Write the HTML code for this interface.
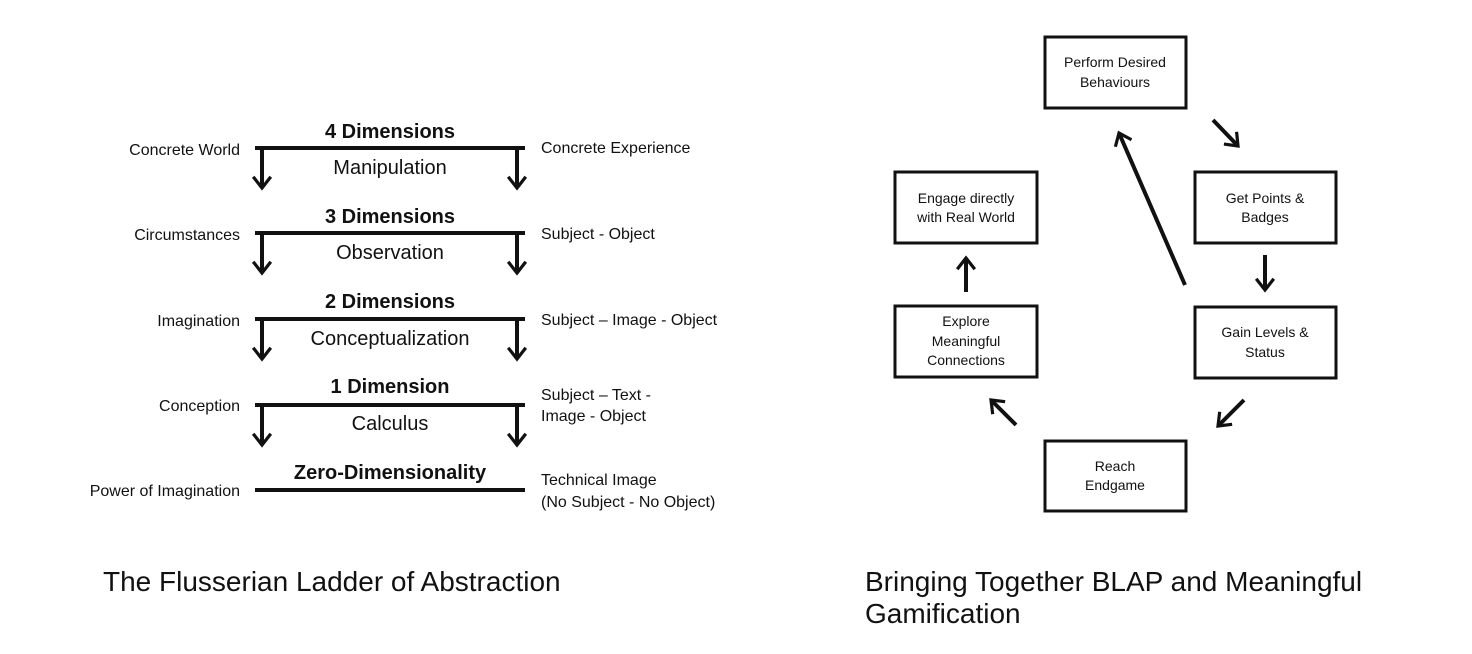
<!DOCTYPE html>
<html><head><style>
body{margin:0;background:#fff;width:1472px;height:654px;overflow:hidden;font-family:"Liberation Sans",sans-serif;}
.c{position:absolute;font-size:28px;color:#111;line-height:32px}
</style></head><body>
<svg width="1472" height="654" style="position:absolute;left:0;top:0" font-family="Liberation Sans, sans-serif" fill="#111">
<defs><marker id="a" markerWidth="5" markerHeight="5" refX="3.2" refY="2.5" orient="auto" markerUnits="strokeWidth"><path d="M0.4,0.3 L3.2,2.5 L0.4,4.7" fill="none" stroke="#111" stroke-width="0.8"/></marker></defs>
<g stroke="#111" stroke-width="4" fill="none">
<g id="lv"><line x1="255" y1="148" x2="525" y2="148"/><line x1="262" y1="148" x2="262" y2="188" marker-end="url(#a)"/><line x1="517" y1="148" x2="517" y2="188" marker-end="url(#a)"/></g>
<use href="#lv" y="85"/><use href="#lv" y="171"/><use href="#lv" y="257"/>
<line x1="255" y1="490" x2="525" y2="490"/>
</g>
<g font-size="20" font-weight="bold" text-anchor="middle">
<text x="390" y="138">4 Dimensions</text><text x="390" y="223">3 Dimensions</text><text x="390" y="308">2 Dimensions</text><text x="390" y="393">1 Dimension</text><text x="390" y="479">Zero-Dimensionality</text>
</g>
<g font-size="20" text-anchor="middle">
<text x="390" y="174">Manipulation</text><text x="390" y="259">Observation</text><text x="390" y="345">Conceptualization</text><text x="390" y="430">Calculus</text>
</g>
<g font-size="16" text-anchor="end">
<text x="240" y="155">Concrete World</text><text x="240" y="240">Circumstances</text><text x="240" y="326">Imagination</text><text x="240" y="411">Conception</text><text x="240" y="496">Power of Imagination</text>
</g>
<g font-size="16">
<text x="541" y="153">Concrete Experience</text><text x="541" y="239">Subject - Object</text><text x="541" y="325">Subject – Image - Object</text><text x="541" y="400">Subject – Text -</text><text x="541" y="421">Image - Object</text><text x="541" y="485">Technical Image</text><text x="541" y="507">(No Subject - No Object)</text>
</g>
<g stroke="#111" stroke-width="3" fill="none">
<rect x="1045" y="37" width="141" height="71"/><rect x="895" y="172" width="142" height="71"/><rect x="1195" y="172" width="141" height="71"/>
<rect x="895" y="306" width="142" height="71"/><rect x="1195" y="307" width="141" height="71"/><rect x="1045" y="441" width="141" height="70"/>
</g>
<g stroke="#111" stroke-width="4" fill="none" marker-end="url(#a)">
<line x1="1213" y1="120" x2="1238" y2="146"/><line x1="1265" y1="255" x2="1265" y2="290"/><line x1="1244" y1="400" x2="1218" y2="426"/>
<line x1="1016" y1="425" x2="991" y2="400"/><line x1="966" y1="292" x2="966" y2="258"/><line x1="1185" y1="285" x2="1119" y2="133"/>
</g>
<g font-size="14" text-anchor="middle">
<text x="1115" y="67">Perform Desired</text><text x="1115" y="87">Behaviours</text>
<text x="966" y="203">Engage directly</text><text x="966" y="222">with Real World</text>
<text x="1265" y="203">Get Points &amp;</text><text x="1265" y="222">Badges</text>
<text x="966" y="326">Explore</text><text x="966" y="346">Meaningful</text><text x="966" y="365">Connections</text>
<text x="1265" y="337">Gain Levels &amp;</text><text x="1265" y="357">Status</text>
<text x="1115" y="471">Reach</text><text x="1115" y="490">Endgame</text>
</g>
</svg>
<div class="c" style="left:103px;top:566px">The Flusserian Ladder of Abstraction</div>
<div class="c" style="left:865px;top:566px">Bringing Together BLAP and Meaningful<br>Gamification</div>
</body></html>
